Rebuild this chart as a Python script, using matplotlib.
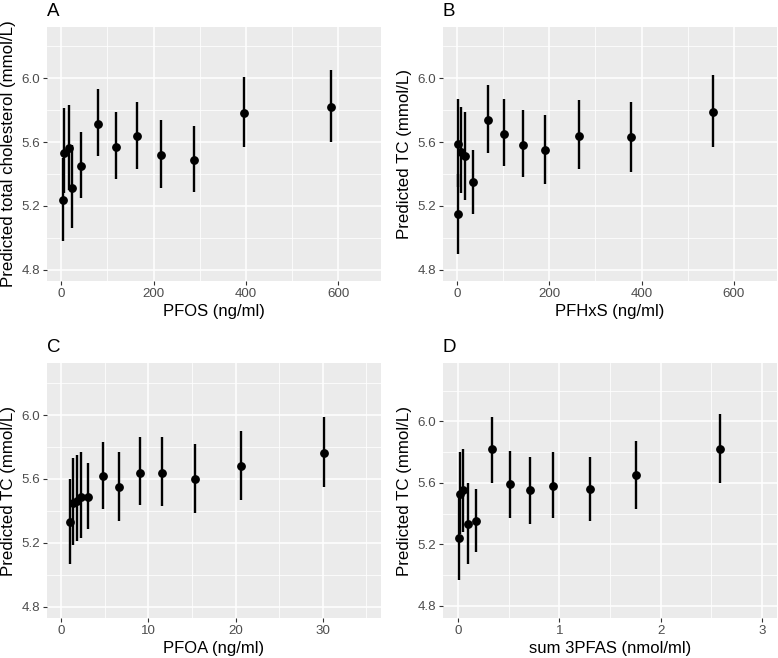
import numpy as np
import matplotlib
matplotlib.use("Agg")
import matplotlib.pyplot as plt
from matplotlib.ticker import FixedLocator

plt.rcParams['font.family'] = ['Liberation Sans', 'DejaVu Sans']

# Panel A - PFOS
pfos_x = [3, 5, 16, 24, 43, 80, 118, 165, 217, 287, 397, 584]
pfos_y = [5.24, 5.53, 5.56, 5.31, 5.45, 5.71, 5.57, 5.64, 5.52, 5.49, 5.78, 5.82]
pfos_lo = [4.98, 5.28, 5.30, 5.06, 5.25, 5.51, 5.37, 5.43, 5.31, 5.29, 5.57, 5.60]
pfos_hi = [5.50, 5.81, 5.83, 5.58, 5.66, 5.93, 5.79, 5.85, 5.74, 5.70, 6.01, 6.05]

# Panel B - PFHxS
pfhxs_x = [1.5, 0.8, 9, 17, 35, 66, 102, 142, 190, 265, 377, 555]
pfhxs_y = [5.59, 5.15, 5.54, 5.51, 5.35, 5.74, 5.65, 5.58, 5.55, 5.64, 5.63, 5.79]
pfhxs_lo = [5.32, 4.90, 5.28, 5.24, 5.15, 5.53, 5.45, 5.38, 5.34, 5.43, 5.41, 5.57]
pfhxs_hi = [5.87, 5.40, 5.82, 5.79, 5.55, 5.96, 5.87, 5.80, 5.77, 5.86, 5.85, 6.02]

# Panel C - PFOA
pfoa_x = [0.99, 1.38, 1.8, 2.3, 3.1, 4.8, 6.6, 9.0, 11.6, 15.4, 20.6, 30.1]
pfoa_y = [5.33, 5.45, 5.46, 5.49, 5.49, 5.62, 5.55, 5.64, 5.64, 5.60, 5.68, 5.76]
pfoa_lo = [5.07, 5.19, 5.21, 5.23, 5.29, 5.41, 5.34, 5.44, 5.43, 5.39, 5.47, 5.55]
pfoa_hi = [5.60, 5.73, 5.75, 5.77, 5.70, 5.83, 5.77, 5.86, 5.86, 5.82, 5.90, 5.99]

# Panel D - sum 3PFAS
sum_x = [0.01, 0.016, 0.05, 0.10, 0.18, 0.34, 0.51, 0.71, 0.94, 1.30, 1.76, 2.59]
sum_y = [5.24, 5.53, 5.55, 5.33, 5.35, 5.82, 5.59, 5.55, 5.58, 5.56, 5.65, 5.82]
sum_lo = [4.97, 5.27, 5.28, 5.07, 5.15, 5.60, 5.37, 5.33, 5.37, 5.35, 5.43, 5.60]
sum_hi = [5.51, 5.80, 5.82, 5.60, 5.56, 6.03, 5.81, 5.77, 5.80, 5.77, 5.87, 6.05]

y_major = [4.8, 5.2, 5.6, 6.0]
y_minor = [5.0, 5.4, 5.8, 6.2]

W, H = 778, 658
fig = plt.figure(figsize=(W / 100, H / 100), dpi=100)


def panel(rect, letter, x, y, lo, hi, xlabel, ylabel, xmaj, xmin, xlim, ylim):
    l, t, r, b = rect
    ax = fig.add_axes([l / W, 1 - b / H, (r - l) / W, (b - t) / H])
    ax.set_facecolor('#EBEBEB')
    for s in ax.spines.values():
        s.set_visible(False)
    ax.xaxis.set_major_locator(FixedLocator(xmaj))
    ax.xaxis.set_minor_locator(FixedLocator(xmin))
    ax.yaxis.set_major_locator(FixedLocator(y_major))
    ax.yaxis.set_minor_locator(FixedLocator(y_minor))
    ax.grid(which='major', color='white', lw=1.1)
    ax.grid(which='minor', color='white', lw=0.55)
    ax.set_axisbelow(True)
    ax.tick_params(which='major', length=2.9, width=0.8, color='#333333',
                   labelcolor='#4D4D4D', labelsize=9.6, pad=2.2)
    ax.tick_params(which='minor', length=0)
    ax.vlines(x, lo, hi, color='black', lw=1.7)
    ax.plot(x, y, 'o', color='black', ms=5.3)
    ax.set_xlim(*xlim)
    ax.set_ylim(*ylim)
    ax.yaxis.set_major_formatter(matplotlib.ticker.FormatStrFormatter('%.1f'))
    ax.set_xlabel(xlabel, fontsize=12, labelpad=2.5)
    ax.set_ylabel(ylabel, fontsize=12.2, labelpad=3.5)
    ax.set_title(letter, loc='left', fontsize=13.5, pad=8)
    return ax


panel((47, 27, 381, 281), 'A', pfos_x, pfos_y, pfos_lo, pfos_hi,
      'PFOS (ng/ml)', 'Predicted total cholesterol (mmol/L)',
      [0, 200, 400, 600], [100, 300, 500], (-31, 693), (4.73, 6.32))
panel((443, 27, 777, 281), 'B', pfhxs_x, pfhxs_y, pfhxs_lo, pfhxs_hi,
      'PFHxS (ng/ml)', 'Predicted TC (mmol/L)',
      [0, 200, 400, 600], [100, 300, 500], (-31, 694), (4.73, 6.32))
panel((47, 363, 381, 618), 'C', pfoa_x, pfoa_y, pfoa_lo, pfoa_hi,
      'PFOA (ng/ml)', 'Predicted TC (mmol/L)',
      [0, 10, 20, 30], [5, 15, 25, 35], (-1.64, 36.7), (4.73, 6.326))
panel((443, 363, 777, 618), 'D', sum_x, sum_y, sum_lo, sum_hi,
      'sum 3PFAS (nmol/ml)', 'Predicted TC (mmol/L)',
      [0, 1, 2, 3], [0.5, 1.5, 2.5], (-0.148, 3.148), (4.72, 6.38))

fig.savefig('out.png', dpi=100)
